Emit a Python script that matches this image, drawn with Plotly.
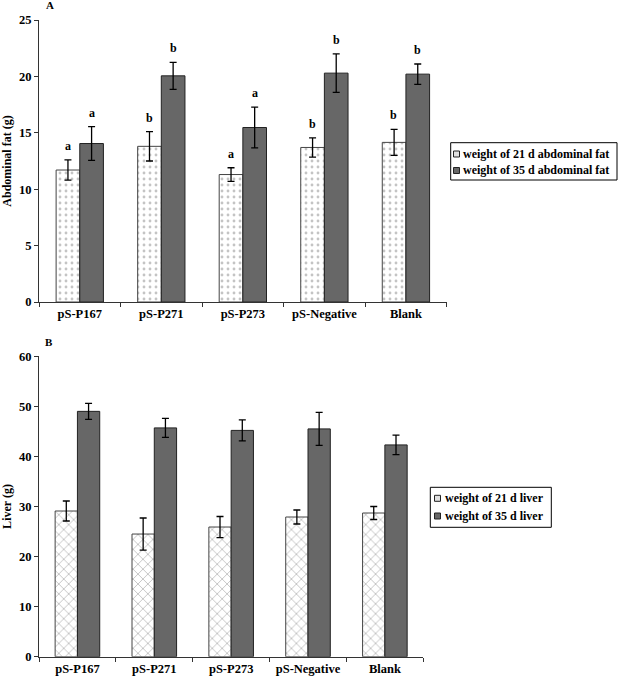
import plotly.graph_objects as go

W, H = 618, 677

categories = ["pS-P167", "pS-P271", "pS-P273", "pS-Negative", "Blank"]

fat21 = [11.7, 13.8, 11.3, 13.7, 14.15]
fat21_err = [0.9, 1.3, 0.6, 0.85, 1.15]
fat35 = [14.05, 20.05, 15.47, 20.29, 20.2]
fat35_err = [1.5, 1.2, 1.8, 1.7, 0.9]
fat21_letters = ["a", "b", "a", "b", "b"]
fat35_letters = ["a", "b", "a", "b", "b"]

liver21 = [29.1, 24.5, 25.9, 27.9, 28.7]
liver21_err = [2.0, 3.2, 2.1, 1.4, 1.3]
liver35 = [49.0, 45.7, 45.2, 45.5, 42.3]
liver35_err = [1.6, 1.9, 2.1, 3.3, 1.95]

legendA = ["weight of 21 d abdominal fat", "weight of 35 d abdominal fat"]
legendB = ["weight of 21 d liver", "weight of 35 d liver"]

FONT = "Liberation Serif, Times New Roman, serif"
DARK = "#676767"
AXC = "#333333"
FS = 12
TFS = 12.5


def px(x):
    return x / W


def py(y):
    return 1 - y / H


def err(arr):
    return dict(type="data", array=arr, color="black", thickness=1.3, width=3.5, visible=True)


fig = go.Figure()

# Panel A
fig.add_trace(go.Bar(
    x=categories, y=fat21, error_y=err(fat21_err), xaxis="x", yaxis="y",
    marker=dict(color="white", line=dict(color="#444", width=1),
                pattern=dict(shape=".", fgcolor="#8a8a8a", bgcolor="white", size=6, solidity=0.18)),
    showlegend=False, name=legendA[0]))
fig.add_trace(go.Bar(
    x=categories, y=fat35, error_y=err(fat35_err), xaxis="x", yaxis="y",
    marker=dict(color=DARK, line=dict(color="#222", width=1)),
    showlegend=False, name=legendA[1]))

# Panel B
fig.add_trace(go.Bar(
    x=categories, y=liver21, error_y=err(liver21_err), xaxis="x2", yaxis="y2",
    marker=dict(color="white", line=dict(color="#444", width=1),
                pattern=dict(shape="x", fgcolor="#666", bgcolor="white", size=7, solidity=0.2)),
    showlegend=False, name=legendB[0]))
fig.add_trace(go.Bar(
    x=categories, y=liver35, error_y=err(liver35_err), xaxis="x2", yaxis="y2",
    marker=dict(color=DARK, line=dict(color="#222", width=1)),
    showlegend=False, name=legendB[1]))

annotations = []
# significance letters
for cat, v, e, t in zip(categories, fat21, fat21_err, fat21_letters):
    annotations.append(dict(x=cat, y=v + e, xref="x", yref="y", text=t, showarrow=False,
                            xshift=-12, yshift=14, yanchor="middle",
                            font=dict(family=FONT, size=12, color="black", weight="bold")))
for cat, v, e, t in zip(categories, fat35, fat35_err, fat35_letters):
    annotations.append(dict(x=cat, y=v + e, xref="x", yref="y", text=t, showarrow=False,
                            xshift=12, yshift=14, yanchor="middle",
                            font=dict(family=FONT, size=12, color="black", weight="bold")))

# panel labels
annotations.append(dict(x=px(50), y=py(5), xref="paper", yref="paper", text="A", showarrow=False,
                        xanchor="center", yanchor="middle",
                        font=dict(family=FONT, size=11, color="black", weight="bold")))
annotations.append(dict(x=px(49), y=py(342), xref="paper", yref="paper", text="B", showarrow=False,
                        xanchor="center", yanchor="middle",
                        font=dict(family=FONT, size=11, color="black", weight="bold")))

shapes = []


def add_legend(box, sym_x, text_x, rows, labels):
    x0, x1, y0, y1 = box
    shapes.append(dict(type="rect", xref="paper", yref="paper", x0=px(x0), x1=px(x1),
                       y0=py(y1), y1=py(y0), line=dict(color="black", width=1), fillcolor="white",
                       layer="above"))
    for i, (ry, lab) in enumerate(zip(rows, labels)):
        fill = "#e0e0e0" if i == 0 else DARK
        shapes.append(dict(type="rect", xref="paper", yref="paper",
                           x0=px(sym_x), x1=px(sym_x + 6), y0=py(ry + 3), y1=py(ry - 3),
                           line=dict(color="#222", width=1), fillcolor=fill, layer="above"))
        annotations.append(dict(x=px(text_x), y=py(ry), xref="paper", yref="paper", text=lab,
                                showarrow=False, xanchor="left", yanchor="middle",
                                font=dict(family=FONT, size=FS, color="black", weight="bold")))


add_legend((450.7, 617.0, 142.7, 180.0), 453.5, 460.5, [154.0, 170.5], legendA)
add_legend((430.3, 551.3, 487.3, 527.3), 434.5, 442.5, [498.3, 516.0], legendB)

axis_common = dict(showline=True, linecolor=AXC, linewidth=1, ticks="outside", ticklen=4,
                   tickcolor=AXC, showgrid=False, zeroline=False, automargin=False,
                   tickfont=dict(family=FONT, size=TFS, color="black", weight="bold"))

fig.update_layout(
    width=W, height=H, margin=dict(l=0, r=0, t=0, b=0, autoexpand=False),
    paper_bgcolor="white", plot_bgcolor="white",
    barmode="group", bargap=0.42, bargroupgap=0,
    showlegend=False,
    xaxis=dict(domain=[px(39), px(446.7)], anchor="y", tickson="boundaries", **axis_common),
    yaxis=dict(domain=[py(302), py(20)], anchor="x", range=[0, 25], dtick=5,
               title=dict(text="Abdominal fat (g)", standoff=6,
                          font=dict(family=FONT, size=FS, color="black", weight="bold")),
               **axis_common),
    xaxis2=dict(domain=[px(39), px(423.3)], anchor="y2", tickson="boundaries", **axis_common),
    yaxis2=dict(domain=[py(656.7), py(356.3)], anchor="x2", range=[0, 60], dtick=10,
                title=dict(text="Liver (g)", standoff=6,
                           font=dict(family=FONT, size=FS, color="black", weight="bold")),
                **axis_common),
    annotations=annotations, shapes=shapes,
)

fig.write_html("out.html", config={"displayModeBar": False},
               post_script="document.body.style.margin='0';document.body.style.overflow='hidden';")
